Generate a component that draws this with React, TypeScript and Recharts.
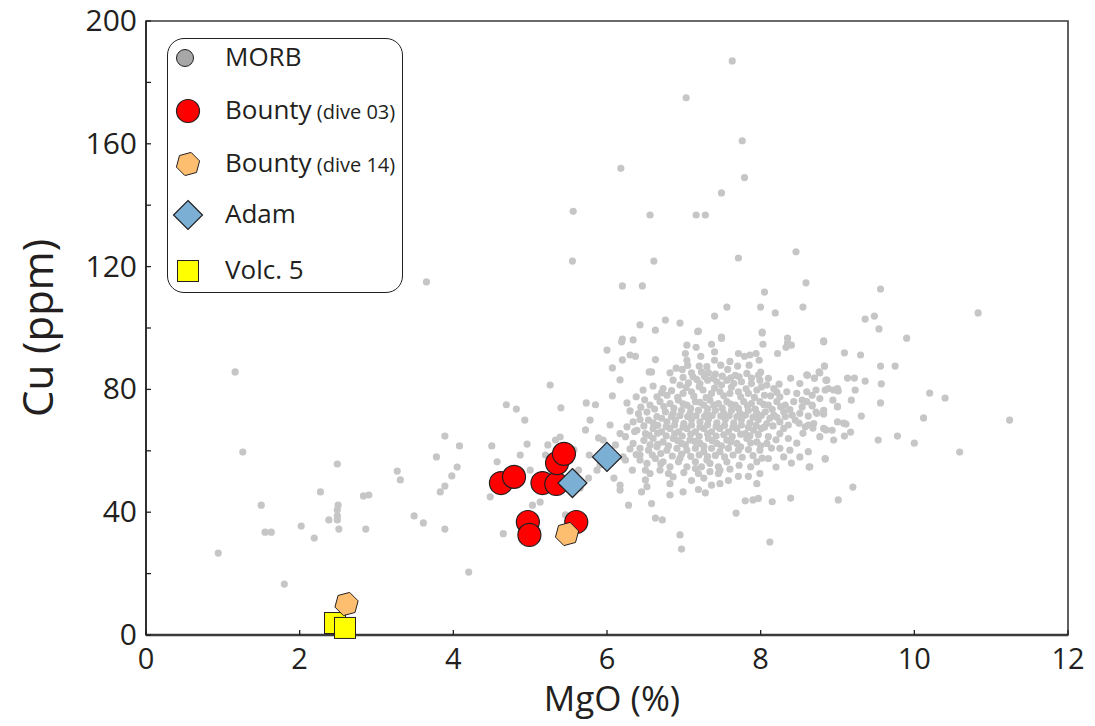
import React from 'react'
import { ScatterChart, Scatter, XAxis, YAxis, ReferenceArea, Legend, Label } from 'recharts'

const FONT = '"Open Sans", "Noto Sans", sans-serif'
const INK = '#231f20'

const xTicks = [0, 2, 4, 6, 8, 10, 12]
const yTicks = [0, 20, 40, 60, 80, 100, 120, 140, 160, 180, 200]

type P = [number, number]

// MORB glass compilation
const morbWest: P[] = [
  [0.94, 26.7], [1.16, 85.7], [1.26, 59.6], [1.5, 42.3], [1.55, 33.5], [1.63, 33.5], [1.8, 16.6],
  [2.02, 35.5], [2.19, 31.6], [2.27, 46.6], [2.38, 37.5], [2.49, 55.7], [2.5, 42.3], [2.49, 40.7],
  [2.49, 38.8], [2.49, 37.5], [2.51, 34.5], [2.83, 45.3], [2.9, 45.6], [2.86, 34.5], [3.27, 53.4],
  [3.31, 50.5], [3.49, 38.8], [3.61, 36.5], [3.65, 115], [3.78, 58], [3.89, 64.8], [3.89, 34.5],
  [3.89, 48.5], [3.83, 46.6], [3.98, 51.8], [4.05, 54.7], [4.08, 61.6], [4.2, 20.5], [4.5, 61.6],
  [4.69, 75], [4.65, 33], [4.82, 73.6], [4.93, 70], [5.26, 81.4], [5.4, 74], [5.73, 75.6], [5.85, 75],
  [4.57, 56.4], [4.48, 45], [4.87, 58.6], [5.0, 53.7], [5.03, 42.3], [5.13, 43.3], [5.2, 58.6],
  [5.33, 63.5], [5.42, 48.9], [5.46, 39.1], [5.52, 57], [5.63, 53.7], [5.76, 51.1], [5.78, 70],
  [5.89, 64.2], [5.91, 55.4], [5.95, 63.5], [6.04, 68.4], [6.11, 61.9], [6.17, 47.2], [6.28, 42.3],
  [6.33, 53.7], [6.07, 77.9], [6.17, 83.1], [5.39, 64.5], [5.23, 61.9], [4.96, 62.2], [5.72, 66.8],
  [5.57, 60.3], [5.77, 58.6], [5.65, 47.9], [5.87, 53.7], [6.09, 51.1], [6.24, 57], [6.43, 58.6],
  [6.56, 61.9], [6.5, 50.5], [6.69, 53.7], [6.82, 45.6], [6.72, 37.5], [6.63, 38.1], [6.95, 32.6],
  [6.97, 28], [7.68, 39.7], [7.9, 44], [8.12, 30.3], [8.39, 44.6], [9.2, 48.2], [9.01, 44],
]

const morbHigh: P[] = [
  [7.63, 187], [7.03, 175], [7.76, 161], [7.79, 149], [6.18, 152], [7.49, 144], [5.56, 138],
  [6.56, 136.8], [7.16, 136.8], [7.28, 136.8], [5.55, 121.8], [6.61, 121.8], [7.71, 122.8],
  [6.2, 113.7], [6.46, 113.7], [8.46, 124.8], [8.59, 114.7], [8.05, 111.7], [7.56, 106.8],
  [8.0, 106.8], [8.55, 106.8], [7.4, 103.9], [8.19, 104.9], [6.95, 101.6], [7.19, 99], [6.2, 96.4],
  [7.49, 97], [8.02, 98.7], [8.35, 96.7], [9.56, 112.7], [10.83, 104.9], [9.36, 102.9], [9.48, 103.9],
  [9.54, 99.7], [8.82, 95.8], [9.9, 96.7], [6.0, 92.8], [6.07, 87], [6.2, 89.6], [6.3, 91.2],
  [6.34, 96.1], [6.43, 101], [6.63, 99.3], [6.76, 102.6],
]

const morbEast: P[] = [
  [9.09, 91.9], [9.3, 91.2], [9.56, 87.6], [9.75, 87.6], [8.83, 87.6], [8.6, 84.7], [8.7, 83.7],
  [8.76, 85.7], [9.13, 83.7], [9.22, 83.7], [9.36, 82.7], [9.57, 81.8], [8.85, 83], [9.23, 79.8],
  [10.2, 78.8], [10.4, 77.2], [9.18, 76.5], [9.56, 75.6], [9.0, 74.3], [9.31, 71.3], [10.12, 70.7],
  [11.24, 70], [9.11, 68.7], [9.09, 64.8], [9.53, 63.5], [9.78, 64.8], [10.0, 62.5], [10.59, 59.6],
  [8.84, 57.3], [8.63, 54.7], [8.72, 79.8], [8.84, 79.8], [9.01, 79.5], [8.54, 76.5], [8.67, 74.6],
  [8.72, 72.6], [8.82, 72], [8.62, 68.4], [8.68, 67.4], [8.85, 66.8], [9.08, 69], [8.95, 63.5],
  [9.17, 66.1],
]

const morbCore: P[] = [
  [7.18, 98.8], [8.02, 98.4], [7.49, 96.6], [7.04, 94.4], [7.36, 94.7], [7.16, 93.7], [8.03, 94.7],
  [8.35, 95.2], [8.4, 94.4], [8.33, 93.7], [8.82, 95.5], [6.19, 95.5],
  [7.02, 91.7], [7.22, 90.8], [7.4, 92.2], [7.71, 91.7], [7.79, 90.8], [7.86, 91.2], [7.94, 91.7],
  [8.22, 91.7], [7.98, 89.5], [6.37, 90.8], [6.63, 89.7], [7.04, 89.5], [7.4, 89.5], [7.2, 87.6],
  [7.7, 87.6], [6.55, 85.7], [6.58, 85.7], [6.82, 85.4], [6.98, 86.5], [7.1, 85.4], [7.23, 85.7],
  [7.32, 85.4], [7.41, 85], [7.57, 86.5], [7.67, 84.6], [7.82, 85.2], [7.97, 84.6], [8.1, 83.6],
  [8.24, 81.7], [8.39, 83.6], [8.51, 81.9], [8.61, 84.6], [8.7, 83.6], [8.77, 85.4], [8.83, 87.6],
  [8.86, 83], [8.88, 80.3], [8.95, 79.8], [9.0, 80.3], [8.94, 76.5], [9.0, 74.5],
  [6.6, 81.1], [6.47, 79.8], [6.73, 80.3], [6.86, 83], [6.95, 81.4], [7.06, 82.1], [7.17, 83.2],
  [7.21, 81.9], [7.31, 83], [7.43, 82.5], [7.49, 81.4], [7.56, 83], [7.65, 81.9], [7.75, 82.5],
  [7.88, 81.9], [7.99, 83], [8.08, 81.4], [8.17, 80.3], [6.78, 78.1], [6.65, 77.6], [6.99, 78.7],
  [7.1, 79.2], [7.25, 79.8], [7.36, 78.7], [7.47, 79.2], [7.6, 78.7], [7.71, 79.2], [7.84, 78.7],
  [7.95, 79.8], [8.05, 78.1], [8.25, 77.6], [8.34, 79.2], [8.47, 78.7], [8.6, 79.2], [8.67, 78.1],
  [6.26, 75.6], [6.38, 77.6], [8.77, 77.0], [8.82, 73.2],
  [6.56, 74.9], [6.69, 76], [6.82, 75.4], [6.93, 76.5], [7.04, 74.9], [7.15, 76], [7.26, 74.9],
  [7.34, 76.5], [7.45, 75.4], [7.56, 76], [7.67, 74.9], [7.78, 76], [7.88, 75.4], [7.99, 76],
  [8.1, 74.9], [8.21, 76], [8.32, 74.9], [8.43, 76], [8.54, 74.3], [8.67, 74.9], [6.76, 72.7],
  [6.86, 72.2], [6.97, 73.2], [7.08, 72.2], [7.19, 73.2], [7.3, 72.2], [7.41, 73.2], [7.52, 72.2],
  [7.62, 73.2], [7.73, 72.2], [7.84, 73.2], [7.95, 72.2], [8.06, 72.7], [8.17, 71.6], [8.3, 72.7],
  [8.41, 71.6], [8.51, 72.2], [8.62, 71.3], [8.73, 72.2], [6.34, 69.4], [6.43, 70.2], [6.54, 70],
  [6.65, 71.1], [6.78, 69.4], [6.89, 70], [7.0, 68.9], [7.1, 70.2], [7.21, 69.4], [7.32, 70.2],
  [7.43, 69.1], [7.54, 70.2], [7.65, 69.1], [7.75, 70.2], [7.86, 69.1], [7.97, 70.2], [8.08, 68.9],
  [8.25, 69.4], [8.36, 68.4], [8.45, 70], [8.58, 67.8], [8.69, 68.9], [8.82, 67.3], [8.93, 66.7],
  [9.0, 69.4],
  [6.26, 67.8], [6.39, 66.7], [6.5, 65.6], [6.6, 67.3], [6.71, 66.2], [6.82, 67.3], [6.93, 66.2],
  [7.04, 67.3], [7.15, 66.2], [7.26, 67.3], [7.36, 66.2], [7.47, 67.3], [7.58, 66.2], [7.69, 67.3],
  [7.8, 65.6], [7.91, 66.7], [8.01, 67.3], [8.25, 65.6], [8.36, 64], [6.6, 64], [6.73, 62.9],
  [6.86, 64], [6.97, 62.4], [7.08, 63.5], [7.21, 62.4], [7.32, 64], [7.43, 62.4], [7.56, 63.5],
  [7.69, 62.4], [7.82, 64], [7.95, 62.9], [8.08, 62.4], [8.25, 60.8], [8.38, 60.2], [8.51, 58.0],
  [8.62, 59.7], [8.77, 64.6], [8.84, 57.5], [8.64, 54.8], [6.34, 62.4], [6.24, 64.6], [6.43, 60.8],
  [6.54, 60.2], [6.65, 61.3], [6.78, 60.2], [6.91, 60.8], [7.04, 60.2], [7.15, 60.8], [7.26, 59.7],
  [7.36, 60.8], [7.47, 59.7], [7.58, 60.8], [7.71, 60.2], [7.84, 60.4], [7.99, 60.2], [8.1, 57.5],
  [8.3, 58.0],
  [6.43, 57], [6.52, 55.9], [6.63, 57.5], [6.73, 56.4], [6.82, 54.8], [6.93, 56.4], [7.04, 54.8],
  [7.15, 56.4], [7.23, 54.8], [7.34, 55.9], [7.45, 54.8], [7.56, 56.4], [6.5, 53.7], [6.56, 52.6],
  [6.8, 52.6], [6.86, 51.5], [7.15, 54.2], [7.19, 52.6], [7.34, 53.2], [7.45, 52.6], [7.47, 53.7],
  [7.71, 51.7], [7.84, 51.7], [7.99, 52.6], [7.87, 54.8], [7.95, 49.3], [6.82, 49.3], [6.45, 46.6],
  [6.52, 48.3], [6.58, 42.8], [6.99, 46.6], [7.19, 47.4], [7.28, 46.3], [7.36, 48.8], [7.47, 49.3],
  [7.8, 43.7], [7.97, 44.5], [8.15, 43.4], [6.17, 48.8], [6.21, 58], [6.17, 65.6],
]

// the most crowded part of the cloud, between the points above
const morbDense: P[] = [
  [6.71, 78.9], [6.84, 79.6], [6.92, 77.4], [7.03, 80.6], [7.13, 77.8], [7.2, 80.9], [7.29, 77.3],
  [7.4, 80.4], [7.52, 77.9], [7.62, 80.7], [7.74, 77.6], [7.81, 80.2], [7.92, 77.4], [8.01, 80.8],
  [8.13, 77.9], [8.21, 79.1], [6.62, 73.6], [6.74, 74.4], [6.87, 73.9], [6.99, 75.3], [7.09, 73.8],
  [7.21, 75.8], [7.31, 73.7], [7.39, 74.9], [7.5, 73.9], [7.61, 75.2], [7.71, 73.8], [7.83, 74.6],
  [7.93, 73.6], [8.04, 75.1], [8.15, 73.5], [8.26, 74.3], [8.38, 73.4], [6.6, 69.1], [6.71, 70.6],
  [6.84, 71.2], [6.95, 71.5], [7.05, 71.1], [7.16, 71.4], [7.27, 71.2], [7.37, 71.5], [7.48, 71.3],
  [7.59, 71.4], [7.69, 71.1], [7.8, 71.6], [7.9, 71.0], [8.01, 71.5], [8.12, 70.6], [8.21, 70.9],
  [8.32, 71.2], [6.48, 68.1], [6.66, 68.3], [6.77, 67.9], [6.88, 68.4], [6.99, 67.7], [7.1, 68.4],
  [7.21, 67.8], [7.31, 68.5], [7.42, 67.9], [7.53, 68.3], [7.64, 67.7], [7.75, 68.4], [7.84, 67.6],
  [7.94, 68.3], [8.05, 67.7], [8.16, 68.1], [8.3, 67.3], [6.55, 65.1], [6.66, 65.7], [6.77, 64.9],
  [6.88, 65.5], [6.98, 64.8], [7.09, 65.4], [7.2, 64.7], [7.31, 65.5], [7.42, 64.8], [7.52, 65.2],
  [7.63, 64.6], [7.74, 65.4], [7.86, 64.9], [7.97, 65.3], [8.1, 64.6], [8.2, 63.6], [6.48, 63.4],
  [6.66, 62.1], [6.8, 61.6], [6.92, 63.3], [7.02, 61.9], [7.14, 63.1], [7.26, 61.5], [7.37, 63.3],
  [7.49, 61.6], [7.61, 62.9], [7.74, 61.3], [7.87, 62.6], [8.0, 61.6], [8.14, 60.9], [6.59, 58.6],
  [6.7, 59.1], [6.85, 58.3], [6.97, 58.9], [7.09, 58.2], [7.2, 58.7], [7.31, 58.1], [7.41, 58.5],
  [7.53, 58.0], [7.64, 58.6], [7.76, 57.9], [7.9, 58.4], [8.02, 57.6], [6.99, 83.9], [7.12, 84.1],
  [7.27, 84.2], [7.38, 83.6], [7.5, 84.3], [7.61, 83.8], [7.72, 84.1], [7.88, 83.7], [8.0, 85.6],
  [6.9, 86.9], [7.05, 87.8], [7.3, 87.4], [7.48, 87.9], [7.6, 89.1], [7.85, 87.9], [6.44, 74.2],
  [6.49, 76.6], [6.52, 72.6], [6.41, 72.1], [6.3, 73.0], [6.36, 66.3], [6.3, 60.6], [6.38, 58.8],
  [7.0, 52.9], [7.1, 50.3], [7.26, 51.1], [7.6, 54.0], [7.72, 55.3], [7.95, 56.4], [8.2, 54.7],
  [8.4, 56.0], [8.47, 62.5], [8.55, 65.7], [8.5, 69.0], [8.6, 76.0], [7.58, 50.3], [7.3, 57.0],
  [6.95, 57.6], [6.7, 55.8],
]

const morb = [...morbWest, ...morbHigh, ...morbEast, ...morbCore, ...morbDense]

const bountyDive03: P[] = [
  [4.62, 49.5], [4.79, 51.5], [5.16, 49.5], [5.34, 49.2], [5.35, 56], [5.44, 59],
  [4.97, 36.8], [4.99, 32.6], [5.6, 36.8],
]
const bountyDive14: P[] = [[5.48, 32.9], [2.61, 10.1]]
const adam: P[] = [[5.55, 49.5], [6.0, 58]]
const volc5: P[] = [[2.46, 3.9], [2.59, 2.3]]

const legendItems = [
  { key: 'morb', name: 'MORB', note: '' },
  { key: 'b03', name: 'Bounty', note: '(dive 03)' },
  { key: 'b14', name: 'Bounty', note: '(dive 14)' },
  { key: 'adam', name: 'Adam', note: '' },
  { key: 'volc', name: 'Volc. 5', note: '' },
]

const toRows = (pts: P[]) => pts.map(([x, y]) => ({ x, y }))

const hexPts = (cx: number, cy: number, r: number) =>
  Array.from({ length: 6 }, (_, i) => {
    const a = ((i * 60 - 75) * Math.PI) / 180
    return `${cx + r * Math.cos(a)},${cy + r * Math.sin(a)}`
  }).join(' ')

const marker = (kind: string, cx: number, cy: number) => {
  switch (kind) {
    case 'morb':
      return <circle cx={cx} cy={cy} r={3.6} fill="#c6c6c6" />
    case 'morbLegend':
      return <circle cx={cx} cy={cy} r={8.5} fill="#a7a7a7" stroke={INK} strokeWidth={1} />
    case 'b03':
      return <circle cx={cx} cy={cy} r={11.5} fill="#ff0000" stroke={INK} strokeWidth={1.2} />
    case 'b14':
      return <polygon points={hexPts(cx, cy, 12)} fill="#fdbf6f" stroke={INK} strokeWidth={1} />
    case 'adam':
      return (
        <polygon
          points={`${cx},${cy - 14.5} ${cx + 14.5},${cy} ${cx},${cy + 14.5} ${cx - 14.5},${cy}`}
          fill="#7bafd4"
          stroke={INK}
          strokeWidth={1.2}
        />
      )
    default:
      return <rect x={cx - 10.5} y={cy - 10.5} width={21} height={21} fill="#ffff00" stroke={INK} strokeWidth={1} />
  }
}

const shapeOf = (kind: string) => (p: any) => marker(kind, p.cx, p.cy)

const XTick = (p: any) => {
  const axisY = p.y - 8
  return (
    <g>
      <line x1={p.x} x2={p.x} y1={axisY} y2={axisY - 5} stroke={INK} strokeWidth={1.3} />
      <text x={p.x} y={axisY + 34} textAnchor="middle" fontSize={29} fill={INK} fontFamily={FONT}>
        {p.payload.value}
      </text>
    </g>
  )
}

const YTick = (p: any) => {
  const axisX = p.x + 8
  const v = p.payload.value
  return (
    <g>
      <line x1={axisX} x2={axisX + 5} y1={p.y} y2={p.y} stroke={INK} strokeWidth={1.3} />
      {v % 40 === 0 && (
        <text x={axisX - 9} y={p.y + 10} textAnchor="end" fontSize={30} fill={INK} fontFamily={FONT}>
          {v}
        </text>
      )}
    </g>
  )
}

const rowTops = [18, 71, 124, 175, 231]

const LegendBox = () => (
  <div
    style={{
      position: 'relative',
      width: 236,
      height: 255,
      border: `1.5px solid ${INK}`,
      borderRadius: 17,
      boxSizing: 'border-box',
      background: '#fff',
      fontFamily: FONT,
      color: INK,
    }}
  >
    {legendItems.map((it, i) => (
      <div key={i} style={{ position: 'absolute', left: 0, top: rowTops[i] - 20, height: 40, width: 236 }}>
        <svg width={44} height={40} style={{ position: 'absolute', left: 0, top: 1 }}>
          {marker(it.key === 'morb' ? 'morbLegend' : it.key, it.key === 'morb' ? 17 : 20, 20)}
        </svg>
        <span style={{ position: 'absolute', left: 57, top: 2, fontSize: 26, lineHeight: '34px', whiteSpace: 'nowrap' }}>
          {it.name}
          {it.note && <span style={{ fontSize: 20 }}> {it.note}</span>}
        </span>
      </div>
    ))}
  </div>
)

export default function App() {
  return (
    <div style={{ position: 'absolute', left: 0, top: 0, background: '#fff' }}>
      <ScatterChart width={1095} height={726} margin={{ top: 21, right: 27, bottom: 0, left: 0 }}>
        <XAxis
          type="number"
          dataKey="x"
          domain={[0, 12]}
          ticks={xTicks}
          interval={0}
          height={91}
          tickSize={6}
          tickMargin={2}
          tickLine={false}
          tick={<XTick />}
          axisLine={{ stroke: '#3a3a3a', strokeWidth: 2.5 }}
        >
          <Label
            content={(lp: any) => (
              <text
                x={lp.viewBox.x + lp.viewBox.width / 2 + 5}
                y={lp.viewBox.y + 76}
                textAnchor="middle"
                fontSize={35}
                fill={INK}
                fontFamily={FONT}
              >
                MgO (%)
              </text>
            )}
          />
        </XAxis>
        <YAxis
          type="number"
          dataKey="y"
          domain={[0, 200]}
          ticks={yTicks}
          interval={0}
          width={146}
          tickSize={6}
          tickMargin={2}
          tickLine={false}
          tick={<YTick />}
          axisLine={{ stroke: INK, strokeWidth: 1.5 }}
        >
          <Label
            content={(lp: any) => {
              const cx = lp.viewBox.x + 36
              const cy = lp.viewBox.y + lp.viewBox.height / 2
              return (
                <text
                  x={cx}
                  y={cy}
                  transform={`rotate(-90 ${cx} ${cy})`}
                  textAnchor="middle"
                  dominantBaseline="central"
                  fontSize={42}
                  fill={INK}
                  fontFamily={FONT}
                >
                  Cu (ppm)
                </text>
              )
            }}
          />
        </YAxis>
        <ReferenceArea x1={0} x2={12} y1={0} y2={200} fill="none" stroke="#3a3a3a" strokeWidth={1.6} />
        <Scatter name="MORB" data={toRows(morb)} shape={shapeOf('morb')} isAnimationActive={false} />
        <Scatter name="Volc. 5" data={toRows(volc5)} shape={shapeOf('volc')} isAnimationActive={false} />
        <Scatter name="Bounty (dive 03)" data={toRows(bountyDive03)} shape={shapeOf('b03')} isAnimationActive={false} />
        <Scatter name="Bounty (dive 14)" data={toRows(bountyDive14)} shape={shapeOf('b14')} isAnimationActive={false} />
        <Scatter name="Adam" data={toRows(adam)} shape={shapeOf('adam')} isAnimationActive={false} />
        <Legend
          layout="horizontal"
          verticalAlign="middle"
          align="center"
          content={() => <LegendBox />}
          wrapperStyle={{ left: 167, top: 38, width: 236, height: 255 }}
        />
      </ScatterChart>
    </div>
  )
}
